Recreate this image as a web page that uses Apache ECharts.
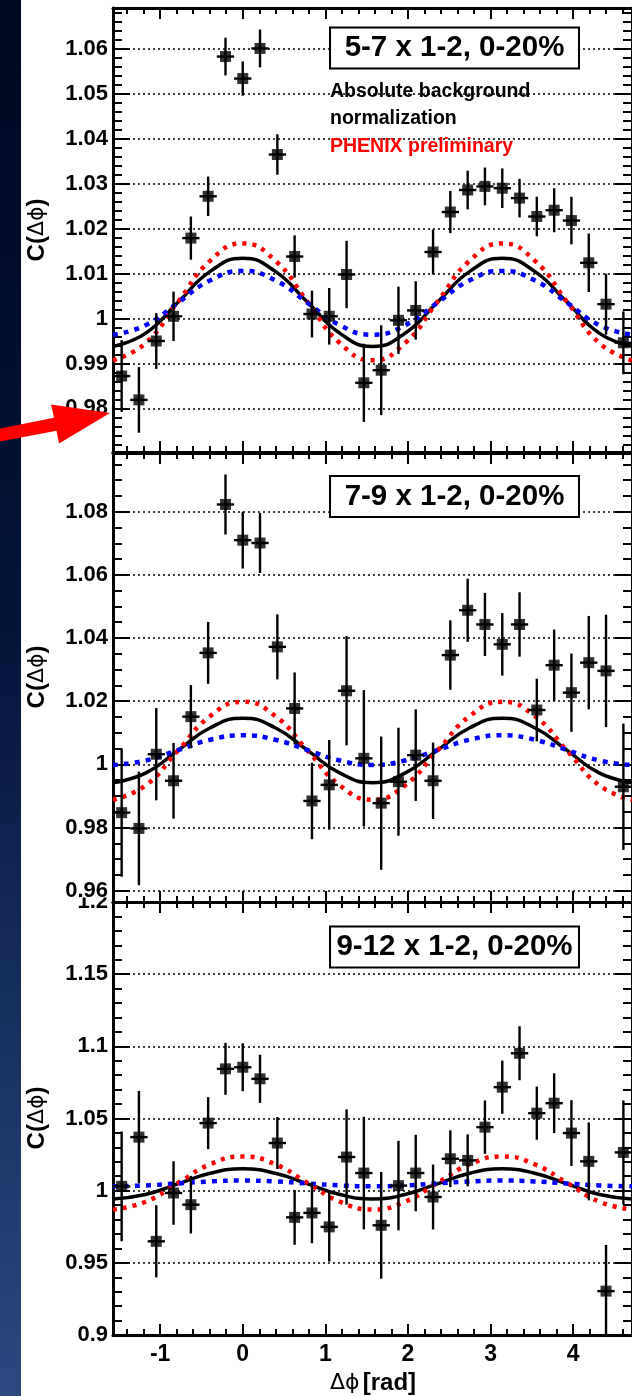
<!DOCTYPE html>
<html>
<head>
<meta charset="utf-8">
<script src="https://cdn.jsdelivr.net/npm/echarts@6/dist/echarts.min.js"></script>
<style>
  html, body { margin: 0; padding: 0; background: #fff; }
  #chart { width: 632px; height: 1396px; }
</style>
</head>
<body>
<div id="chart"></div>
<script>
// Δφ bin centres: 30 bins spanning [-π/2, 3π/2]
const binCenters = [-1.466, -1.257, -1.047, -0.838, -0.628, -0.419, -0.209, 0.000, 0.209, 0.419,
                    0.628, 0.838, 1.047, 1.257, 1.466, 1.676, 1.885, 2.094, 2.304, 2.513,
                    2.723, 2.932, 3.142, 3.351, 3.560, 3.770, 3.979, 4.189, 4.398, 4.608];
const binHalfWidth = 0.1047;

// C(Δφ), trigger 5-7 GeV/c x partner 1-2 GeV/c, 0-20%
const c57 = [0.9872, 0.9819, 0.9950, 1.0005, 1.0179, 1.0272, 1.0583, 1.0534, 1.0601, 1.0365,
             1.0138, 1.0010, 1.0005, 1.0098, 0.9857, 0.9885, 0.9996, 1.0018, 1.0148, 1.0237,
             1.0286, 1.0294, 1.0290, 1.0268, 1.0227, 1.0241, 1.0218, 1.0124, 1.0032, 0.9946];
const e57 = [0.0080, 0.0073, 0.0062, 0.0055, 0.0048, 0.0044, 0.0042, 0.0038, 0.0042, 0.0045,
             0.0047, 0.0052, 0.0063, 0.0075, 0.0087, 0.0100, 0.0075, 0.0065, 0.0050, 0.0047,
             0.0043, 0.0042, 0.0044, 0.0043, 0.0044, 0.0049, 0.0053, 0.0065, 0.0068, 0.0070];

// C(Δφ), trigger 7-9 x 1-2, 0-20%
const c79 = [0.9847, 0.9797, 1.0032, 0.9948, 1.0151, 1.0353, 1.0823, 1.0710, 1.0701, 1.0372,
             1.0177, 0.9884, 0.9935, 1.0233, 1.0019, 0.9877, 0.9945, 1.0029, 0.9948, 1.0346,
             1.0488, 1.0443, 1.0380, 1.0443, 1.0172, 1.0314, 1.0227, 1.0322, 1.0296, 0.9929];
const e79 = [0.0203, 0.0180, 0.0146, 0.0120, 0.0100, 0.0098, 0.0095, 0.0090, 0.0095, 0.0103,
             0.0114, 0.0121, 0.0142, 0.0173, 0.0216, 0.0211, 0.0171, 0.0145, 0.0121, 0.0110,
             0.0100, 0.0100, 0.0099, 0.0102, 0.0099, 0.0113, 0.0124, 0.0148, 0.0178, 0.0200];

// C(Δφ), trigger 9-12 x 1-2, 0-20%
const c912 = [1.0030, 1.0371, 0.9649, 0.9984, 0.9903, 1.0468, 1.0844, 1.0855, 1.0775, 1.0330,
              0.9815, 0.9846, 0.9749, 1.0233, 1.0122, 0.9760, 1.0035, 1.0122, 0.9956, 1.0221,
              1.0210, 1.0440, 1.0717, 1.0952, 1.0537, 1.0606, 1.0399, 1.0203, 0.9304, 1.0265];
const e912 = [0.0380, 0.0320, 0.0250, 0.0220, 0.0200, 0.0180, 0.0180, 0.0166, 0.0167, 0.0180,
              0.0190, 0.0210, 0.0240, 0.0330, 0.0390, 0.0370, 0.0310, 0.0265, 0.0225, 0.0197,
              0.0180, 0.0185, 0.0184, 0.0187, 0.0184, 0.0207, 0.0228, 0.0270, 0.0320, 0.0360];

// Flow-modulated background: central value (black) and its systematic band edges (red, blue)
const phiSamples = [-1.571, -1.178, -0.785, -0.393, 0.000, 0.393, 0.785, 1.178, 1.571,
                    1.963, 2.356, 2.749, 3.142, 3.534, 3.927, 4.320, 4.712];
const bg57  = [0.9938, 0.9967, 1.0036, 1.0105, 1.0134, 1.0105, 1.0036, 0.9967, 0.9938, 0.9967, 1.0036, 1.0105, 1.0134, 1.0105, 1.0036, 0.9967, 0.9938];
const bg57R = [0.9907, 0.9945, 1.0037, 1.0129, 1.0167, 1.0129, 1.0037, 0.9945, 0.9907, 0.9945, 1.0037, 1.0129, 1.0167, 1.0129, 1.0037, 0.9945, 0.9907];
const bg57B = [0.9964, 0.9985, 1.0035, 1.0085, 1.0106, 1.0085, 1.0035, 0.9985, 0.9964, 0.9985, 1.0035, 1.0085, 1.0106, 1.0085, 1.0035, 0.9985, 0.9964];
const bg79  = [0.9942, 0.9972, 1.0044, 1.0116, 1.0146, 1.0116, 1.0044, 0.9972, 0.9942, 0.9972, 1.0044, 1.0116, 1.0146, 1.0116, 1.0044, 0.9972, 0.9942];
const bg79R = [0.9888, 0.9933, 1.0043, 1.0153, 1.0198, 1.0153, 1.0043, 0.9933, 0.9888, 0.9933, 1.0043, 1.0153, 1.0198, 1.0153, 1.0043, 0.9933, 0.9888];
const bg79B = [0.9998, 1.0012, 1.0045, 1.0078, 1.0092, 1.0078, 1.0045, 1.0012, 0.9998, 1.0012, 1.0045, 1.0078, 1.0092, 1.0078, 1.0045, 1.0012, 0.9998];
const bg912  = [0.9943, 0.9973, 1.0047, 1.0121, 1.0151, 1.0121, 1.0047, 0.9973, 0.9943, 0.9973, 1.0047, 1.0121, 1.0151, 1.0121, 1.0047, 0.9973, 0.9943];
const bg912R = [0.9869, 0.9923, 1.0053, 1.0183, 1.0237, 1.0183, 1.0053, 0.9923, 0.9869, 0.9923, 1.0053, 1.0183, 1.0237, 1.0183, 1.0053, 0.9923, 0.9869];
const bg912B = [1.0030, 1.0036, 1.0050, 1.0064, 1.0070, 1.0064, 1.0050, 1.0036, 1.0030, 1.0036, 1.0050, 1.0064, 1.0070, 1.0064, 1.0050, 1.0036, 1.0030];

const panelTitles = ['5-7 x 1-2, 0-20%', '7-9 x 1-2, 0-20%', '9-12 x 1-2, 0-20%'];
const xRange = [-1.5708, 4.7124];
const yRanges = [[0.9703, 1.0691], [0.9564, 1.0986], [0.9, 1.2]];
const ySteps = [0.01, 0.02, 0.05];
const yMinorSplits = [5, 4, 5];
// labels where the middle and lower pads meet: lower pad's top label is cut by the pad edge
const seamLabels = ['0.96', '1.2'];

const panels = [
  { pts: c57, err: e57, bg: bg57, bgR: bg57R, bgB: bg57B },
  { pts: c79, err: e79, bg: bg79, bgR: bg79R, bgB: bg79B },
  { pts: c912, err: e912, bg: bg912, bgR: bg912R, bgB: bg912B }
];

const FONT = '"Liberation Sans", Arial, Helvetica, sans-serif';
const gridBoxes = [
  { top: 8, height: 444 },
  { top: 453, height: 449 },
  { top: 902, height: 433 }
];
const LEFT = 113, WIDTH = 519;
const LABEL_SIZE = 22;

const frameLine = { show: true, onZero: false, lineStyle: { color: '#000', width: 3 } };
const fmt = v => String(+(+v).toFixed(3));

const grids = [], xAxes = [], yAxes = [], series = [];

gridBoxes.forEach((g, i) => {
  grids.push({ left: LEFT, width: WIDTH, top: g.top, height: g.height, containLabel: false });
  const isLast = i === 2;
  const xBase = {
    type: 'value', gridIndex: i, min: xRange[0], max: xRange[1],
    minInterval: 1, maxInterval: 1,
    axisLine: frameLine,
    axisTick: { show: true, inside: true, length: 11, lineStyle: { color: '#000', width: 2 } },
    minorTick: { show: true, splitNumber: 5, length: 6, lineStyle: { color: '#000', width: 2 } },
    splitLine: { show: false }
  };
  xAxes.push(Object.assign({}, xBase, {
    position: 'bottom',
    axisLabel: {
      show: isLast, margin: 8, color: '#000', fontFamily: FONT, fontWeight: 'bold', fontSize: 23,
      showMinLabel: false, showMaxLabel: false, formatter: fmt
    }
  }));
  xAxes.push(Object.assign({}, xBase, { position: 'top', axisLabel: { show: false } }));

  const yBase = {
    type: 'value', gridIndex: i, min: yRanges[i][0], max: yRanges[i][1],
    minInterval: ySteps[i], maxInterval: ySteps[i],
    axisLine: frameLine,
    axisTick: { show: true, inside: true, length: 17, lineStyle: { color: '#000', width: 2 } },
    minorTick: { show: true, splitNumber: yMinorSplits[i], length: 9, lineStyle: { color: '#000', width: 2 } }
  };
  yAxes.push(Object.assign({}, yBase, {
    position: 'left',
    axisLabel: {
      show: true, margin: 5, color: '#000', fontFamily: FONT, fontWeight: 'bold', fontSize: LABEL_SIZE,
      showMinLabel: isLast, showMaxLabel: false,
      // the seam labels are drawn separately so the pad edge can cut them
      formatter: v => (seamLabels.indexOf(fmt(v)) >= 0 ? '' : fmt(v))
    },
    splitLine: { show: true, lineStyle: { color: '#000', width: 1.5, type: [2, 3] } }
  }));
  yAxes.push(Object.assign({}, yBase, {
    position: 'right', axisLabel: { show: false }, splitLine: { show: false }
  }));

  const p = panels[i];
  const xi = 2 * i, yi = 2 * i;
  const curve = (vals, color, width, dash, z) => ({
    type: 'line', xAxisIndex: xi, yAxisIndex: yi, smooth: 0.5, showSymbol: false, silent: true,
    z, clip: true,
    data: phiSamples.map((x, k) => [x, vals[k]]),
    lineStyle: { color, width, type: dash, cap: 'butt' }
  });
  series.push(curve(p.bg, '#000', 3.5, 'solid', 2));
  series.push(curve(p.bgR, '#ff0000', 4.5, [4, 6], 3));
  series.push(curve(p.bgB, '#0000ff', 4.5, [5, 6], 4));

  series.push({
    type: 'custom', xAxisIndex: xi, yAxisIndex: yi, clip: true, z: 5, silent: true,
    data: binCenters.map((x, k) => [x, p.pts[k], p.pts[k] - p.err[k], p.pts[k] + p.err[k]]),
    renderItem(params, api) {
      const cx = api.value(0), cy = api.value(1);
      const lo = api.coord([cx, api.value(2)]);
      const hi = api.coord([cx, api.value(3)]);
      const l = api.coord([cx - binHalfWidth, cy]);
      const r = api.coord([cx + binHalfWidth, cy]);
      return {
        type: 'group',
        children: [
          { type: 'line', shape: { x1: lo[0], y1: lo[1], x2: hi[0], y2: hi[1] }, style: { stroke: '#000', lineWidth: 2.4 } },
          { type: 'line', shape: { x1: l[0], y1: l[1], x2: r[0], y2: r[1] }, style: { stroke: '#000', lineWidth: 2.4 } }
        ]
      };
    }
  });
  series.push({
    type: 'scatter', xAxisIndex: xi, yAxisIndex: yi, z: 6, silent: true,
    symbol: 'rect', symbolSize: 11, itemStyle: { color: '#000' },
    data: binCenters.map((x, k) => [x, p.pts[k]])
  });
});

// Panel labels, annotation, axis titles and the slide decoration
const graphic = [
  {
    type: 'rect', left: 0, top: 0, z: -10, silent: true,
    shape: { width: 21, height: 1396 },
    style: { fill: new echarts.graphic.LinearGradient(0, 0, 0, 1, [
      { offset: 0, color: '#000720' }, { offset: 0.45, color: '#03143a' }, { offset: 1, color: '#2a4a80' }
    ]) }
  }
];
const boxCentres = [48, 496.5, 947];
panelTitles.forEach((t, i) => {
  graphic.push({
    type: 'rect', z: 20, silent: true,
    shape: { x: 330, y: boxCentres[i] - 20.5, width: 249, height: 41 },
    style: { fill: '#fff', stroke: '#000', lineWidth: 2 }
  });
  graphic.push({
    type: 'text', z: 21, silent: true, x: 454.5, y: boxCentres[i],
    style: { text: t, fill: '#000', font: 'bold 29.5px ' + FONT, textAlign: 'center', textVerticalAlign: 'middle' }
  });
});
[['Absolute background', 92, '#000'], ['normalization', 119, '#000'], ['PHENIX preliminary', 147, '#ff0000']].forEach(a => {
  graphic.push({
    type: 'text', z: 21, silent: true, x: 330, y: a[1],
    style: { text: a[0], fill: a[2], font: 'bold 19.5px ' + FONT, textAlign: 'left', textVerticalAlign: 'middle' }
  });
});

// seam between middle and lower pads: "1.2" is cut by the edge, "0.96" stays whole
graphic.push({
  type: 'text', z: 30, silent: true, x: 108, y: 902,
  style: { text: seamLabels[1], fill: '#000', font: 'bold ' + LABEL_SIZE + 'px ' + FONT, textAlign: 'right', textVerticalAlign: 'middle' }
});
graphic.push({
  type: 'rect', z: 31, silent: true,
  shape: { x: 50, y: 878, width: 61, height: 19.5 },
  style: { fill: '#fff' }
});
graphic.push({
  type: 'text', z: 32, silent: true, x: 108, y: 890.5,
  style: { text: seamLabels[0], fill: '#000', font: 'bold ' + LABEL_SIZE + 'px ' + FONT, textAlign: 'right', textVerticalAlign: 'middle' }
});

const yTitleCentres = [230, 677, 1118];
yTitleCentres.forEach(cy => {
  graphic.push({
    type: 'text', z: 21, silent: true, x: 37, y: cy, rotation: Math.PI / 2,
    style: {
      text: '{b|C(}{g|Δϕ}{b|)}', textAlign: 'center', textVerticalAlign: 'middle',
      rich: {
        b: { fontFamily: FONT, fontWeight: 'bold', fontSize: 24, fill: '#000', color: '#000' },
        g: { fontFamily: '"DejaVu Sans", ' + FONT, fontWeight: 'normal', fontSize: 22, fill: '#000', color: '#000' }
      }
    }
  });
});
graphic.push({
  type: 'text', z: 21, silent: true, x: 373, y: 1383,
  style: {
    text: '{g|Δϕ} {b|[rad]}', textAlign: 'center', textVerticalAlign: 'middle',
    rich: {
      b: { fontFamily: FONT, fontWeight: 'bold', fontSize: 24, fill: '#000', color: '#000' },
      g: { fontFamily: '"DejaVu Sans", ' + FONT, fontWeight: 'normal', fontSize: 22, fill: '#000', color: '#000' }
    }
  }
});
graphic.push({
  type: 'polygon', z: 50, silent: true,
  shape: { points: [[0, 428.5], [54, 417.7], [51, 404.4], [110, 413], [59, 443.6], [56.5, 430.7], [0, 441.5]] },
  style: { fill: '#ff0000' }
});

const chart = echarts.init(document.getElementById('chart'), null, { renderer: 'canvas' });
chart.setOption({
  backgroundColor: '#fff',
  animation: false,
  grid: grids,
  xAxis: xAxes,
  yAxis: yAxes,
  series: series,
  graphic: graphic
});
</script>
</body>
</html>
